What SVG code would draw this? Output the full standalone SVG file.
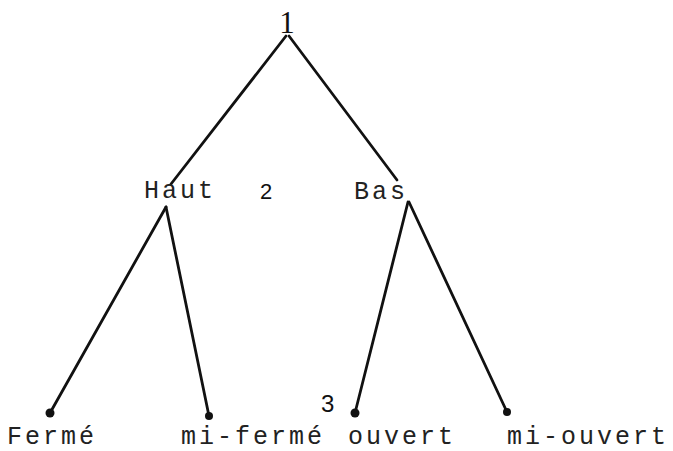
<svg xmlns="http://www.w3.org/2000/svg" width="673" height="451" viewBox="0 0 673 451">
  <style>
    .edge { stroke: #111; stroke-width: 2.8; stroke-linecap: round; fill: none; }
    .dot { fill: #111; }
    .tw { font-family: "Liberation Mono", "DejaVu Sans Mono", monospace; font-size: 25px; letter-spacing: 3px; fill: #222; }
    .hand { font-family: "Liberation Sans", "DejaVu Sans", sans-serif; fill: #111; }
  </style>
  <rect width="673" height="451" fill="#fff"/>
  <g id="connectors">
    <line class="edge" x1="286" y1="36" x2="171" y2="184"/>
    <line class="edge" x1="289" y1="36" x2="397" y2="180"/>
    <line class="edge" x1="166" y1="207" x2="50" y2="413"/>
    <line class="edge" x1="166" y1="207" x2="209" y2="416"/>
    <line class="edge" x1="408" y1="202" x2="355" y2="413"/>
    <line class="edge" x1="409" y1="202" x2="507" y2="412"/>
  </g>
  <g id="node-1">
    <text x="287" y="33" text-anchor="middle" font-family="'Liberation Serif', 'DejaVu Serif', serif" font-size="31" fill="#111">1</text>
  </g>
  <g id="node-haut">
    <text class="tw" x="144" y="198">Haut</text>
  </g>
  <g id="label-2">
    <text class="hand" x="260" y="199" font-size="22">2</text>
  </g>
  <g id="node-bas">
    <text class="tw" x="354" y="199">Bas</text>
  </g>
  <g id="node-ferme">
    <circle class="dot" cx="50" cy="413" r="4.5"/>
    <text class="tw" x="7" y="444">Fermé</text>
  </g>
  <g id="node-mi-ferme">
    <circle class="dot" cx="209" cy="416" r="4"/>
    <text class="tw" x="181" y="444">mi-fermé</text>
  </g>
  <g id="label-3">
    <text class="hand" x="321" y="412" font-size="24">3</text>
  </g>
  <g id="node-ouvert">
    <circle class="dot" cx="355" cy="413" r="4.5"/>
    <text class="tw" x="348" y="444">ouvert</text>
  </g>
  <g id="node-mi-ouvert">
    <circle class="dot" cx="507" cy="412" r="4"/>
    <text class="tw" x="507" y="444">mi-ouvert</text>
  </g>
</svg>
